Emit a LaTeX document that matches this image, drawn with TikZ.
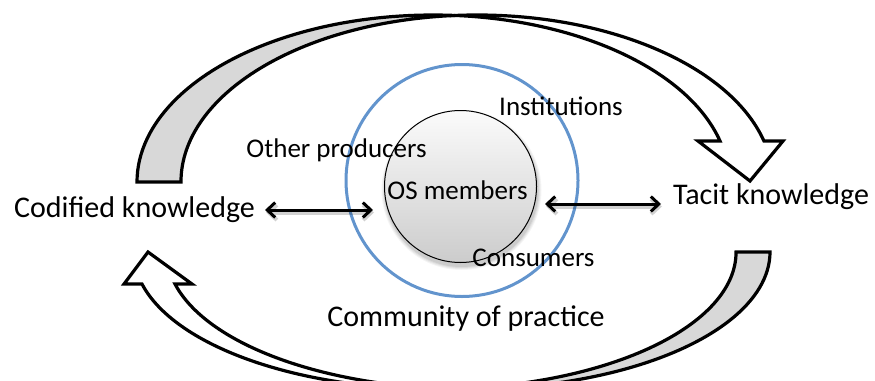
\documentclass[tikz,border=0pt]{standalone}
\usepackage{fontspec}
\setmainfont{Carlito}
\usetikzlibrary{arrows.meta}
\definecolor{bandgrey}{RGB}{216,216,216}
\definecolor{cpblue}{RGB}{98,148,205}
\begin{document}
\begin{tikzpicture}[x=1pt,y=-1pt,
  backband/.style={draw=black,fill=bandgrey,line width=3.2pt,line join=miter,miter limit=10},
  frontband/.style={draw=black,fill=white,line width=3.2pt,line join=miter,miter limit=10},
  dbl/.style={line width=3pt,{Straight Barb[length=8pt,width=15pt]}-{Straight Barb[length=8pt,width=15pt]}},
  dblshadow/.style={dbl,black,opacity=0.18,line width=4pt},
  big/.style={anchor=base,inner sep=0pt,font=\fontsize{30}{36}\selectfont},
  small/.style={anchor=base,inner sep=0pt,font=\fontsize{27}{32}\selectfont}]
\useasboundingbox (0,0) rectangle (875,380);
\begin{scope}
\clip (0,0) rectangle (875,380);
% top curved arrow
\draw[backband] (137,182) arc[start angle=180,end angle=274.26,x radius=296,y radius=167]
  arc[start angle=265.74,end angle=180,x radius=296,y radius=167] -- cycle;
\draw[frontband] (455,15.46) arc[start angle=265.74,end angle=345.8,x radius=296,y radius=167]
  -- (783,141) -- (750,181) -- (698,141) -- (720,141)
  arc[start angle=345.8,end angle=274.26,x radius=296,y radius=167] -- cycle;
% bottom curved arrow
\draw[backband] (770,252) arc[start angle=0,end angle=93.2,x radius=301.5,y radius=137]
  arc[start angle=86.8,end angle=0,x radius=301.2,y radius=137] -- cycle;
\draw[frontband] (451.66,388.8) arc[start angle=86.8,end angle=166.5,x radius=301.2,y radius=137]
  -- (124,284) -- (148,252) -- (192,284) -- (175,284)
  arc[start angle=166.5,end angle=93.2,x radius=301.5,y radius=137] -- cycle;
\end{scope}
% community circle
\node[draw=cpblue,line width=3pt,circle,minimum size=232pt,inner sep=0pt] (cop) at (462,180.5) {};
% soft shadow
\foreach \r/\o in {80/0.04,79/0.05,78/0.06,77/0.07}
  \fill[black,opacity=\o] (461.5,190) circle[radius=\r];
\node[draw=black,line width=1pt,circle,minimum size=152pt,inner sep=0pt,
  top color=gray!3,bottom color=gray!40] (osc) at (460.5,186.5) {};
% texts
\node[small] (osm) at (457.5,199) {OS members};
\node[small] (ins) at (561,115) {Institutions};
\node[small] (oth) at (336.5,157) {Other producers};
\node[small] (con) at (533.5,266) {Consumers};
\node[big] (cod) at (134.5,217) {Codified knowledge};
\node[big] (tac) at (771,204) {Tacit knowledge};
\node[big] (com) at (466,326) {Community of practice};
% double arrows
\coordinate (la1) at (265,210);
\coordinate (la2) at (373,210);
\coordinate (ra1) at (545,204);
\coordinate (ra2) at (661,204);
\coordinate (la1s) at (266,212.5);
\coordinate (la2s) at (374,212.5);
\coordinate (ra1s) at (546,206.5);
\coordinate (ra2s) at (662,206.5);
\draw[dblshadow] (la1s) -- (la2s);
\draw[dblshadow] (ra1s) -- (ra2s);
\draw[dbl] (la1) -- (la2);
\draw[dbl] (ra1) -- (ra2);
\end{tikzpicture}
\end{document}
